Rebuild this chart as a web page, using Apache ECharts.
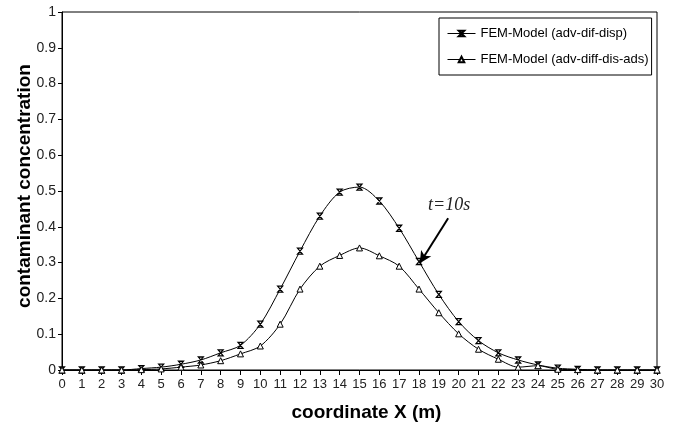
<!DOCTYPE html>
<html>
<head>
<meta charset="utf-8">
<script src="https://cdn.jsdelivr.net/npm/echarts@6/dist/echarts.min.js"></script>
<style>html,body{margin:0;padding:0;background:#fff}#c{width:675px;height:422px}</style>
</head>
<body>
<div id="c"></div>
<script>
const xValues = [0,1,2,3,4,5,6,7,8,9,10,11,12,13,14,15,16,17,18,19,20,21,22,23,24,25,26,27,28,29,30];
const seriesDispName = 'FEM-Model (adv-dif-disp)';
const seriesDisp = [0,0,0,0,0.004,0.008,0.016,0.028,0.048,0.069,0.128,0.226,0.332,0.430,0.497,0.511,0.472,0.396,0.303,0.211,0.135,0.082,0.048,0.028,0.014,0.005,0.002,0,0,0,0];
const seriesAdsName = 'FEM-Model (adv-diff-dis-ads)';
const seriesAds = [0,0,0,0,0.001,0.003,0.008,0.014,0.026,0.045,0.067,0.128,0.226,0.290,0.320,0.341,0.319,0.290,0.226,0.160,0.101,0.058,0.030,0.008,0.012,0.002,0.001,0,0,0,0];
const yTicks = [0,0.1,0.2,0.3,0.4,0.5,0.6,0.7,0.8,0.9,1];
const annotationText = 't=10s';
const arrowFrom = [19.47, 0.424];
const arrowTo = [18.04, 0.298];
const textAt = [19.52, 0.459];

const chart = echarts.init(document.getElementById('c'));
const hourglass = 'path://M0,0L10,0L0,10L10,10Z';
const font = 'Liberation Sans, Arial, sans-serif';
chart.setOption({
  animation: false,
  backgroundColor: '#fff',
  grid: {left: 62, right: 18, top: 12, bottom: 52, show: true, borderColor: '#000', borderWidth: 1, backgroundColor: '#fff', containLabel: false, outerBoundsMode: 'none'},
  legend: {
    orient: 'vertical', left: 439, top: 18,
    borderColor: '#000', borderWidth: 1, padding: [9, 3, 9, 8],
    itemWidth: 28, itemHeight: 7, itemGap: 13,
    lineStyle: {width: 1},
    textStyle: {fontSize: 13, color: '#000', fontFamily: font},
    data: [seriesDispName, seriesAdsName]
  },
  xAxis: {
    type: 'value', min: 0, max: 30, interval: 1,
    name: 'coordinate X (m)', nameLocation: 'middle', nameGap: 33, nameMoveOverlap: false,
    nameTextStyle: {fontSize: 19, fontWeight: 'bold', color: '#000', fontFamily: font, padding: [0, 0, 0, 14]},
    axisLine: {lineStyle: {color: '#000', width: 1}},
    axisTick: {show: true, length: 5, lineStyle: {color: '#000'}},
    axisLabel: {fontSize: 13, color: '#222', margin: 8, fontFamily: font},
    splitLine: {show: false}
  },
  yAxis: {
    type: 'value', min: yTicks[0], max: yTicks[yTicks.length - 1], interval: 0.1,
    name: 'contaminant concentration', nameLocation: 'middle', nameGap: 28, nameMoveOverlap: false,
    nameTextStyle: {fontSize: 19, fontWeight: 'bold', color: '#000', fontFamily: font, padding: [0, 0, 0, 10]},
    axisLine: {show: true, lineStyle: {color: '#000', width: 1}},
    axisTick: {show: true, length: 4, lineStyle: {color: '#000'}},
    axisLabel: {fontSize: 14, color: '#222', margin: 6, fontFamily: font},
    splitLine: {show: false}
  },
  series: [
    {
      name: seriesDispName, type: 'line', smooth: 0.3,
      data: xValues.map((x, i) => [x, seriesDisp[i]]),
      symbol: hourglass, symbolSize: [5, 6], showAllSymbol: true,
      lineStyle: {color: '#000', width: 1},
      itemStyle: {color: '#fff', borderColor: '#000', borderWidth: 1.2},
      markLine: {
        silent: true, symbol: ['none', 'arrow'], symbolSize: [9, 12],
        lineStyle: {color: '#000', width: 2, type: 'solid'},
        label: {show: false},
        data: [[{coord: arrowFrom}, {coord: arrowTo}]]
      },
      markPoint: {
        silent: true, symbol: 'circle', symbolSize: 0,
        label: {show: true, formatter: annotationText, fontSize: 18, fontStyle: 'italic', fontFamily: 'Liberation Serif, Times New Roman, serif', color: '#222'},
        data: [{coord: textAt}]
      }
    },
    {
      name: seriesAdsName, type: 'line', smooth: 0.3,
      data: xValues.map((x, i) => [x, seriesAds[i]]),
      symbol: 'triangle', symbolSize: 6, showAllSymbol: true,
      lineStyle: {color: '#000', width: 1},
      itemStyle: {color: '#fff', borderColor: '#000', borderWidth: 1}
    }
  ]
});
</script>
</body>
</html>
